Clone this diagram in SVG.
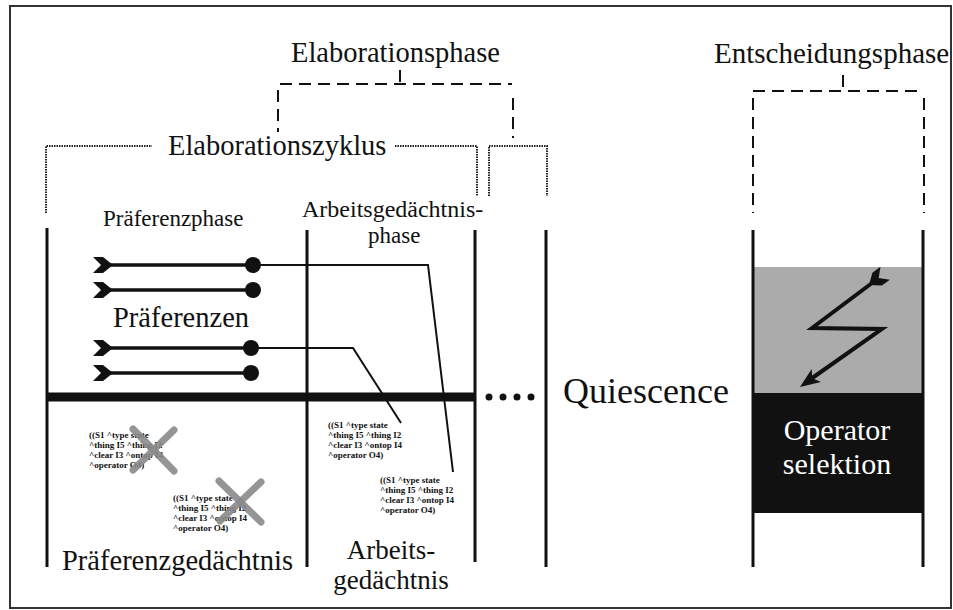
<svg xmlns="http://www.w3.org/2000/svg" width="953" height="610" viewBox="0 0 953 610">
<style>
.t{font-family:"Liberation Serif","Times New Roman",serif;fill:#111}
.code{font-family:"Liberation Serif","Times New Roman",serif;font-weight:bold;font-size:9px;fill:#111}
.dash{fill:none;stroke:#111;stroke-width:2;stroke-dasharray:12 7}
.dot{fill:none;stroke:#222;stroke-width:2;stroke-dasharray:1.5 1}
.bar{stroke:#111;stroke-width:3;fill:none}
.thin{stroke:#111;stroke-width:2;fill:none}
.pref{stroke:#111;stroke-width:3.5}
.cross{stroke:#8a8a8a;stroke-width:7;stroke-linecap:round;opacity:0.9}
</style>
<defs>
<path id="chev" d="M0,0 L-10,-8 L-20,-8 L-12,0 L-20,8 L-10,8 Z" fill="#111"/>
</defs>
<rect x="10" y="6" width="941" height="602" fill="#fff" stroke="#333" stroke-width="2"/>

<g id="elaborationsphase">
<text class="t" x="291" y="62" font-size="28.5">Elaborationsphase</text>
<path class="dash" d="M400,70 V84 M280,84 H512 M278,90 V132 M513,98 V138"/>
</g>

<g id="elaborationszyklus">
<text class="t" x="168" y="155" font-size="28.5">Elaborationszyklus</text>
<path class="dot" d="M46,213 V146 H152 M395,146 H477 V196 M489,196 V146 H547 V196"/>
</g>

<g id="entscheidungsphase">
<text class="t" x="714" y="63" font-size="29">Entscheidungsphase</text>
<path class="dash" d="M843,75 V91 M753,91 H920 M753,98 V213 M924,98 V213"/>
</g>

<g id="phase-lines">
<line class="bar" x1="47" y1="228" x2="47" y2="567"/>
<line class="bar" x1="307" y1="230" x2="307" y2="567"/>
<line class="bar" x1="475" y1="230" x2="475" y2="562"/>
<line class="bar" x1="546" y1="230" x2="546" y2="567"/>
<line x1="47" y1="397" x2="475" y2="397" stroke="#111" stroke-width="9"/>
<g fill="#111"><circle cx="489" cy="397" r="3.5"/><circle cx="503" cy="397" r="3.5"/><circle cx="517" cy="397" r="3.5"/><circle cx="531" cy="397" r="3.5"/></g>
</g>

<g id="praeferenzphase">
<text class="t" x="103" y="226" font-size="23">Präferenzphase</text>
</g>
<g id="arbeitsgedaechtnisphase">
<text class="t" x="302" y="217" font-size="24">Arbeitsgedächtnis-</text>
<text class="t" x="368" y="243" font-size="23">phase</text>
</g>

<g id="praeferenzen">
<g class="pref">
<line x1="108" y1="265" x2="253" y2="265"/>
<line x1="108" y1="290" x2="253" y2="290"/>
<line x1="108" y1="348" x2="251" y2="348"/>
<line x1="108" y1="373" x2="251" y2="373"/>
</g>
<use href="#chev" x="113" y="265"/>
<use href="#chev" x="113" y="290"/>
<use href="#chev" x="113" y="348"/>
<use href="#chev" x="113" y="373"/>
<g fill="#111">
<circle cx="253" cy="265" r="8"/>
<circle cx="253" cy="290" r="8"/>
<circle cx="251" cy="348" r="8"/>
<circle cx="251" cy="373" r="8"/>
</g>
<text class="t" x="113" y="327" font-size="28.5">Präferenzen</text>
</g>

<g id="connectors">
<polyline class="thin" points="253,265 428,265 453,472"/>
<polyline class="thin" points="251,348 353,348 401,423"/>
</g>

<g id="praeferenzgedaechtnis">
<g class="code">
<text x="89" y="438">((S1 ^type state</text>
<text x="89" y="448">^thing I5 ^thing I2</text>
<text x="89" y="458">^clear I3 ^ontop I4</text>
<text x="89" y="468">^operator O4)</text>
</g>
<g class="code">
<text x="173" y="501">((S1 ^type state</text>
<text x="173" y="511">^thing I5 ^thing I2</text>
<text x="173" y="521">^clear I3 ^ontop I4</text>
<text x="173" y="531">^operator O4)</text>
</g>
<line class="cross" x1="133" y1="429" x2="174" y2="471"/>
<line class="cross" x1="174" y1="430" x2="133" y2="470"/>
<line class="cross" x1="219" y1="481" x2="261" y2="522"/>
<line class="cross" x1="261" y1="482" x2="220" y2="521"/>
<text class="t" x="62" y="570" font-size="28.5">Präferenzgedächtnis</text>
</g>

<g id="arbeitsgedaechtnis">
<g class="code">
<text x="328" y="428">((S1 ^type state</text>
<text x="328" y="438">^thing I5 ^thing I2</text>
<text x="328" y="448">^clear I3 ^ontop I4</text>
<text x="328" y="458">^operator O4)</text>
</g>
<g class="code">
<text x="380" y="483">((S1 ^type state</text>
<text x="380" y="493">^thing I5 ^thing I2</text>
<text x="380" y="503">^clear I3 ^ontop I4</text>
<text x="380" y="513">^operator O4)</text>
</g>
<text class="t" x="391" y="559" font-size="27" text-anchor="middle">Arbeits-</text>
<text class="t" x="391" y="589" font-size="27" text-anchor="middle">gedächtnis</text>
</g>

<g id="quiescence">
<text class="t" x="563" y="403" font-size="36">Quiescence</text>
</g>

<g id="entscheidung">
<rect x="753" y="267" width="170" height="126" fill="#ababab"/>
<rect x="753" y="393" width="170" height="120" fill="#111"/>
<line class="bar" x1="753" y1="230" x2="753" y2="567"/>
<line class="bar" x1="923" y1="230" x2="923" y2="567"/>
<polyline points="872,283 812,328 882,329 808,381" fill="none" stroke="#111" stroke-width="4" stroke-linejoin="miter"/>
<use href="#chev" transform="translate(869,285) rotate(144)"/>
<path d="M0,0 L-20,-8 L-15,0 L-20,8 Z" fill="#111" transform="translate(800,387) rotate(144.7)"/>
<text class="t" x="837" y="440" font-size="30" text-anchor="middle" style="fill:#fff">Operator</text>
<text class="t" x="837" y="474" font-size="30" text-anchor="middle" style="fill:#fff">selektion</text>
</g>
</svg>
